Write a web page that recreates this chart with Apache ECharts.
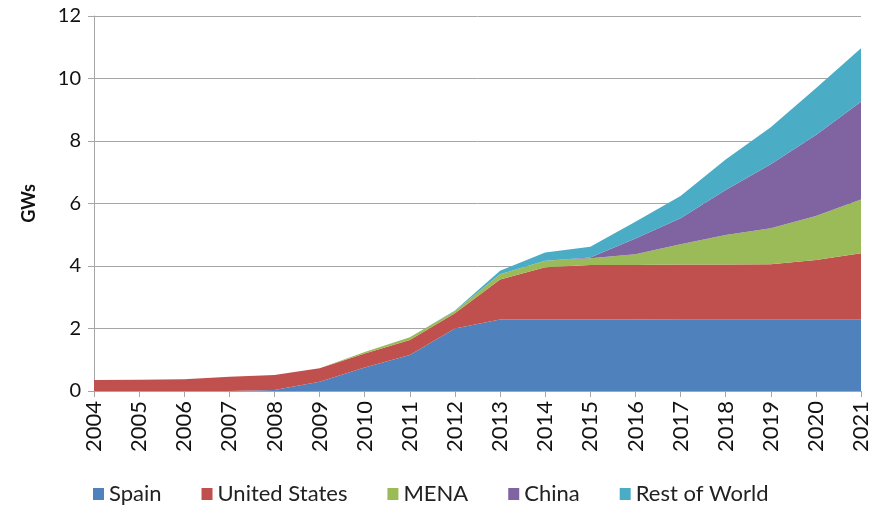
<!DOCTYPE html>
<html>
<head>
<meta charset="utf-8">
<script src="https://cdn.jsdelivr.net/npm/echarts@6/dist/echarts.min.js"></script>
<style>
  html, body { margin: 0; padding: 0; background: #fff; }
  #chart { width: 874px; height: 515px; }
</style>
</head>
<body>
<div id="chart"></div>
<script>
const years = ['2004', '2005', '2006', '2007', '2008', '2009', '2010', '2011', '2012',
  '2013', '2014', '2015', '2016', '2017', '2018', '2019', '2020', '2021']

// GW per region (stacked)
const spain = [0, 0, 0, 0, 0.03, 0.3, 0.75, 1.15, 2.0, 2.29, 2.29, 2.29, 2.29, 2.3, 2.3, 2.3, 2.3, 2.3]
const unitedStates = [0.35, 0.36, 0.38, 0.46, 0.48, 0.43, 0.45, 0.48, 0.49, 1.28, 1.67, 1.74, 1.74, 1.75, 1.75, 1.76, 1.89, 2.11]
const mena = [0, 0, 0, 0, 0, 0, 0.05, 0.09, 0.07, 0.17, 0.21, 0.22, 0.35, 0.65, 0.94, 1.15, 1.41, 1.72]
const china = [0, 0, 0, 0, 0, 0, 0, 0, 0, 0, 0, 0.02, 0.5, 0.83, 1.44, 2.05, 2.59, 3.13]
const restOfWorld = [0, 0, 0, 0, 0, 0, 0, 0, 0.02, 0.11, 0.26, 0.35, 0.54, 0.71, 0.98, 1.18, 1.5, 1.71]

const yTicks = [0, 2, 4, 6, 8, 10, 12]

const seriesList = [
  { name: 'Spain', data: spain, color: '#4F81BD' },
  { name: 'United States', data: unitedStates, color: '#C0504D' },
  { name: 'MENA', data: mena, color: '#9BBB59' },
  { name: 'China', data: china, color: '#8064A2' },
  { name: 'Rest of World', data: restOfWorld, color: '#4BACC6' }
]

const chart = echarts.init(document.getElementById('chart'), null, { renderer: 'canvas' })

const option = {
  animation: false,
  textStyle: { fontFamily: 'Lato, "Open Sans", sans-serif' },
  grid: { left: 94, right: 13, top: 16, bottom: 124 },
  legend: {
    bottom: 5,
    left: 88,
    icon: 'rect',
    itemWidth: 11,
    itemHeight: 12,
    itemGap: 40,
    textStyle: { fontSize: 22, color: '#222', fontFamily: 'Lato, sans-serif' },
    data: seriesList.map(s => s.name)
  },
  xAxis: {
    type: 'category',
    data: years,
    boundaryGap: false,
    axisLine: { lineStyle: { color: '#A6A6A6', width: 1 } },
    axisTick: { show: true, length: 6, lineStyle: { color: '#A6A6A6' } },
    axisLabel: { rotate: 90, fontSize: 22, color: '#111', margin: 10, interval: 0 }
  },
  yAxis: {
    type: 'value',
    min: yTicks[0],
    max: yTicks[yTicks.length - 1],
    interval: 2,
    name: 'GWs',
    nameLocation: 'middle',
    nameGap: 56,
    nameRotate: 90,
    nameTextStyle: { fontSize: 18, fontWeight: 'bold', color: '#111' },
    axisLine: { show: true, lineStyle: { color: '#A6A6A6' } },
    axisTick: { show: true, length: 6, lineStyle: { color: '#A6A6A6' } },
    axisLabel: { fontSize: 20, color: '#111', margin: 13 },
    splitLine: { lineStyle: { color: '#A6A6A6', width: 1 } }
  },
  series: seriesList.map(s => ({
    name: s.name,
    type: 'line',
    stack: 'total',
    data: s.data,
    symbol: 'none',
    lineStyle: { width: 0 },
    itemStyle: { color: s.color },
    areaStyle: { color: s.color, opacity: 1 }
  }))
}

chart.setOption(option)
</script>
</body>
</html>
